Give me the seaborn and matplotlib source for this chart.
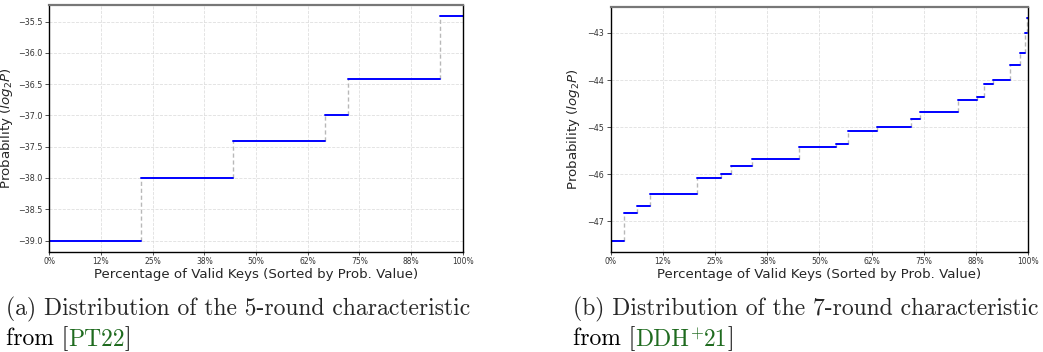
import numpy as np
import pandas as pd
import matplotlib
matplotlib.use("Agg")
import matplotlib.pyplot as plt
import seaborn as sns
from matplotlib.ticker import FuncFormatter, MultipleLocator

# (a) 5-round characteristic: 18 valid keys, log2 probability per group
levels_a = [-39.0, -38.0, -37.415, -37.0, -36.415, -35.415]
counts_a = [4, 4, 4, 1, 4, 1]

# (b) 7-round characteristic: level and cumulative fraction where it ends
levels_b = [-47.415, -46.830, -46.678, -46.415, -46.093, -46.0, -45.830,
            -45.678, -45.415, -45.356, -45.093, -45.0, -44.830, -44.678,
            -44.415, -44.356, -44.093, -44.0, -43.678, -43.415, -43.0, -42.678]
ends_b = [0.032, 0.062, 0.093, 0.206, 0.263, 0.288, 0.338, 0.452, 0.540,
          0.569, 0.637, 0.720, 0.741, 0.831, 0.876, 0.894, 0.916, 0.957,
          0.981, 0.993, 0.997, 1.0]

yticks_a = np.arange(-39.0, -35.4, 0.5)
yticks_b = [-47, -46, -45, -44, -43]

caption_a = ("(a) Distribution of the 5-round characteristic", "from [", "PT22", None, "]")
caption_b = ("(b) Distribution of the 7-round characteristic", "from [", "DDH", "$^{+}$", "21]")

BLUE = "#0000ff"
DASH = "#b8b8b8"
GREEN = "#1f6b1f"


def step_frames(levels, ends):
    starts = [0.0] + list(ends[:-1])
    hz = []
    for i, (s, e, v) in enumerate(zip(starts, ends, levels)):
        hz.append({"x": s, "y": v, "seg": i})
        hz.append({"x": e, "y": v, "seg": i})
    vt = []
    for i in range(1, len(levels)):
        vt.append({"x": starts[i], "y": levels[i - 1], "seg": i})
        vt.append({"x": starts[i], "y": levels[i], "seg": i})
    return pd.DataFrame(hz), pd.DataFrame(vt)


def pct(x, pos):
    return f"{x * 100:.0f}%"


def draw_panel(ax, levels, ends, yticks, yfmt, ylab_x):
    hz, vt = step_frames(levels, ends)
    sns.lineplot(data=vt, x="x", y="y", units="seg", estimator=None, ax=ax,
                 color=DASH, lw=1.0, linestyle=(0, (3, 2)))
    sns.lineplot(data=hz, x="x", y="y", units="seg", estimator=None, ax=ax,
                 color=BLUE, lw=1.4)
    ax.set_xlim(0, 1)
    ax.margins(y=0.05)
    ax.xaxis.set_major_locator(MultipleLocator(0.125))
    ax.xaxis.set_major_formatter(FuncFormatter(pct))
    ax.set_yticks(yticks)
    ax.yaxis.set_major_formatter(FuncFormatter(lambda v, p: yfmt.format(v).replace("-", "\u2212")))
    ax.grid(True, linestyle="--", color="#d8d8d8", lw=0.6, alpha=0.8)
    ax.tick_params(axis="x", labelsize=5.5, length=2, width=0.6, pad=2, colors="#333333")
    ax.tick_params(axis="y", labelsize=5.8, length=3, width=0.6, pad=2, colors="#333333")
    ax.set_xlabel("Percentage of Valid Keys (Sorted by Prob. Value)", fontsize=9.6, labelpad=1)
    ax.set_ylabel("Probability ($log_2P$)", fontsize=9.6)
    ax.yaxis.set_label_coords(ylab_x, 0.5)
    for side in ("left", "right", "bottom"):
        ax.spines[side].set_color("black")
        ax.spines[side].set_linewidth(1.0)
    ax.spines["top"].set_color("#777777")
    ax.spines["top"].set_linewidth(1.6)


sns.set_style("ticks")
plt.rcParams["font.family"] = ["DejaVu Sans"]

fig = plt.figure(figsize=(10.43, 3.52), dpi=100)
ax_a = fig.add_axes([0.0473, 0.2849, 0.3963, 0.7009])
ax_b = fig.add_axes([0.5855, 0.2849, 0.4004, 0.6960])

ends_a = list(np.cumsum(counts_a) / np.sum(counts_a))
draw_panel(ax_a, levels_a, ends_a, yticks_a, "{:.1f}", -0.083)
draw_panel(ax_b, levels_b, ends_b, yticks_b, "{:.0f}", -0.069)

# captions in a LaTeX-like serif, citation keys in green
renderer = fig.canvas.get_renderer()
W, H = fig.bbox.width, fig.bbox.height
cap_kw = dict(fontfamily="cmr10", fontsize=17, math_fontfamily="cm", va="baseline", ha="left")


def caption(x_px, parts):
    line1, pre, key, sup, post = parts
    fig.text(x_px / W, 1 - 315.5 / H, line1, **cap_kw)
    x = x_px
    y = 1 - 345.5 / H
    for txt, col in ((pre, "black"), (key, GREEN), (sup, GREEN), (post[:-1], GREEN), ("]", "black")):
        if not txt:
            continue
        t = fig.text(x / W, y, txt, color=col, **cap_kw)
        x = t.get_window_extent(renderer).x1


caption(6, caption_a)
caption(573, caption_b)

fig.savefig("out.png", dpi=100)
